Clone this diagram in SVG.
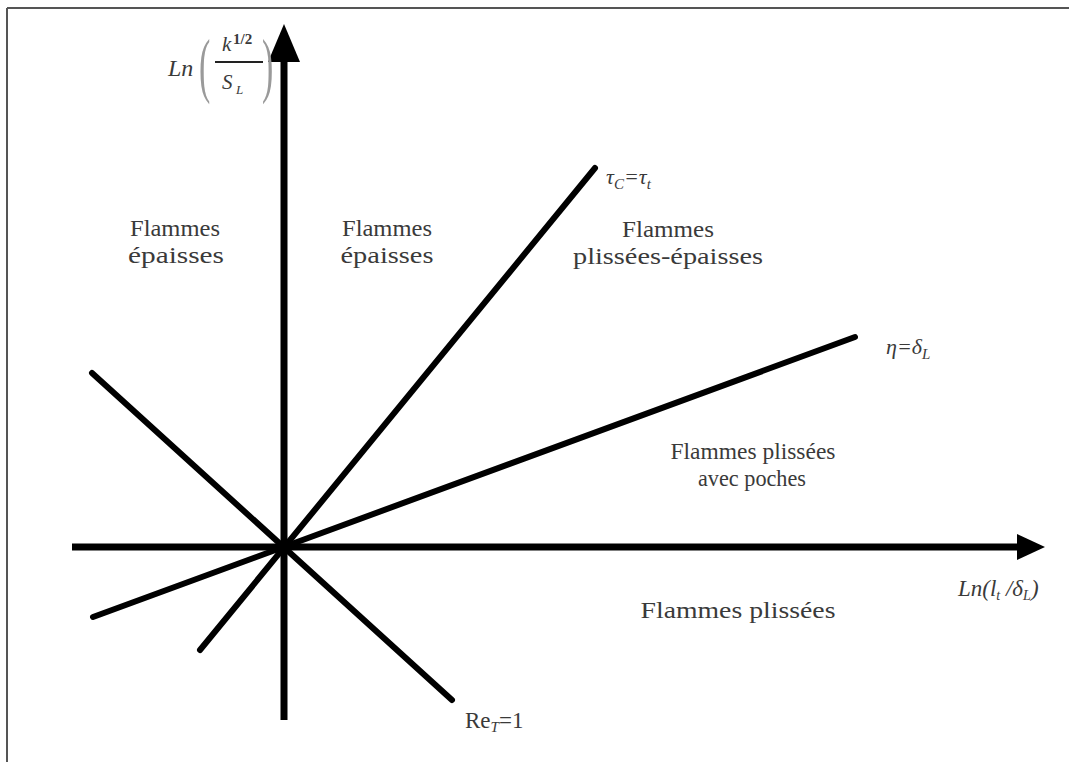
<svg xmlns="http://www.w3.org/2000/svg" width="1069" height="762" viewBox="0 0 1069 762">
<style>
.lbl{font-family:"Liberation Serif","Times New Roman",serif;font-size:23px;fill:#3a3a3a}
.it{font-family:"Liberation Serif","Times New Roman",serif;font-style:italic;fill:#3a3a3a}
.ln{stroke:#000;stroke-width:6;stroke-linecap:round;fill:none}
.ax{stroke:#000;stroke-width:7;fill:none}
.par{font-family:"Liberation Serif","Times New Roman",serif;font-size:40px;fill:#9a9a9a}
</style>
<rect x="0" y="0" width="1069" height="762" fill="#fff"/>
<g id="frame" stroke="#555" stroke-width="2" fill="none">
<line x1="7" y1="8" x2="1069" y2="8"/>
<line x1="7" y1="8" x2="7" y2="762"/>
</g>
<g id="connectors">
<line class="ax" x1="284" y1="720" x2="284" y2="55"/>
<polygon points="284,24 268,62 300,62" fill="#000"/>
<line class="ax" x1="72" y1="547" x2="1020" y2="547"/>
<polygon points="1045,547 1017,534 1017,560" fill="#000"/>
<line class="ln" x1="92" y1="373" x2="452" y2="700"/>
<line class="ln" x1="200" y1="650" x2="595" y2="168"/>
<line class="ln" x1="93" y1="617" x2="855" y2="337"/>
</g>
<g id="ylabel">
<text class="it" x="168" y="76" font-size="24">Ln</text>
<text class="par" transform="translate(199,89) scale(0.85,1.8)">(</text>
<text class="par" transform="translate(262,89) scale(0.85,1.8)">)</text>
<text class="it" x="222" y="51" font-size="21">k</text>
<text x="233" y="44" font-family="Liberation Serif,serif" font-size="15" font-weight="bold" fill="#3a3a3a">1/2</text>
<line x1="215" y1="62" x2="263" y2="62" stroke="#222" stroke-width="2"/>
<text class="it" x="222" y="89" font-size="21">S</text>
<text class="it" x="236" y="94" font-size="13">L</text>
</g>
<g id="xlabel">
<text class="it" x="958" y="596" font-size="23">Ln(<tspan>l</tspan><tspan font-size="14" dy="4">t</tspan><tspan dy="-4"> /δ</tspan><tspan font-size="14" dy="4">L</tspan><tspan dy="-4">)</tspan></text>
</g>
<g id="tau">
<text class="it" x="606" y="184" font-size="22">τ<tspan font-size="15" dy="5">C</tspan><tspan dy="-5">=τ</tspan><tspan font-size="15" dy="5">t</tspan></text>
</g>
<g id="eta">
<text class="it" x="886" y="354" font-size="22">η=δ<tspan font-size="15" dy="5">L</tspan></text>
</g>
<g id="ret">
<text class="lbl" x="465" y="728" font-size="22">Re<tspan class="it" font-size="15" dy="4">T</tspan><tspan dy="-4">=1</tspan></text>
</g>
<g id="r1">
<text class="lbl" x="175" y="236" text-anchor="middle" textLength="90" lengthAdjust="spacingAndGlyphs">Flammes</text>
<text class="lbl" x="176" y="263" text-anchor="middle" textLength="96" lengthAdjust="spacingAndGlyphs">épaisses</text>
</g>
<g id="r2">
<text class="lbl" x="387" y="236" text-anchor="middle" textLength="90" lengthAdjust="spacingAndGlyphs">Flammes</text>
<text class="lbl" x="387" y="263" text-anchor="middle" textLength="93" lengthAdjust="spacingAndGlyphs">épaisses</text>
</g>
<g id="r3">
<text class="lbl" x="668" y="237" text-anchor="middle" textLength="92" lengthAdjust="spacingAndGlyphs">Flammes</text>
<text class="lbl" x="668" y="264" text-anchor="middle" textLength="190" lengthAdjust="spacingAndGlyphs">plissées-épaisses</text>
</g>
<g id="r4">
<text class="lbl" x="753" y="459" text-anchor="middle" textLength="165" lengthAdjust="spacingAndGlyphs">Flammes plissées</text>
<text class="lbl" x="752" y="486" text-anchor="middle" textLength="108" lengthAdjust="spacingAndGlyphs">avec poches</text>
</g>
<g id="r5">
<text class="lbl" x="738" y="618" text-anchor="middle" textLength="195" lengthAdjust="spacingAndGlyphs">Flammes plissées</text>
</g>
</svg>
